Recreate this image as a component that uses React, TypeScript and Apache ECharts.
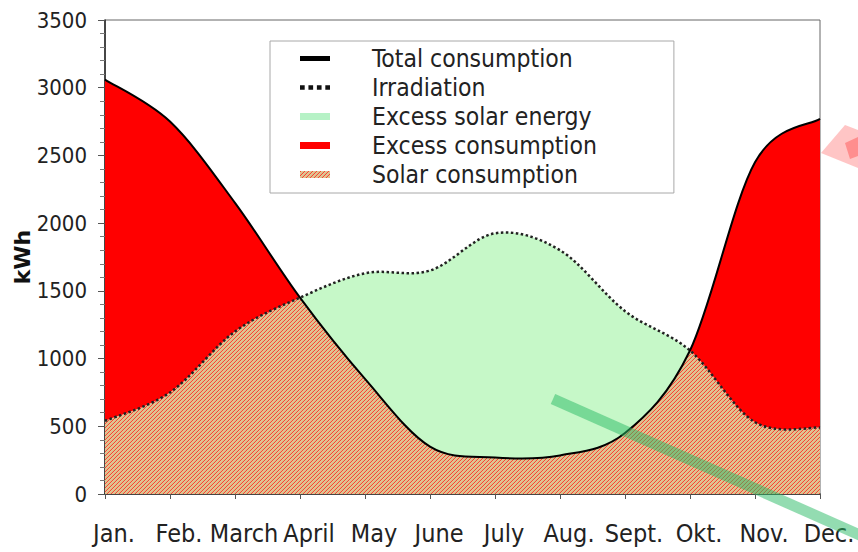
import React, { useEffect, useRef } from "react";
import * as echarts from "echarts";

// ---- data ----
const months = ["Jan.", "Feb.", "March", "April", "May", "June", "July", "Aug.", "Sept.", "Okt.", "Nov.", "Dec."];
const totalConsumption = [3060, 2750, 2150, 1450, 850, 350, 270, 285, 450, 1060, 2450, 2770];
const irradiation = [540, 750, 1200, 1450, 1630, 1650, 1925, 1800, 1350, 1060, 530, 490];
const yMin = 0;
const yMax = 3500;
const yInterval = 500;

const legendNames = ["Total consumption", "Irradiation", "Excess solar energy", "Excess consumption", "Solar consumption"];

const FONT = "'DejaVu Sans Condensed', 'DejaVu Sans', sans-serif";
const RED = "#ff0000";
const GREEN = "#c6f8c8";
const S = 1 / 6;

function makeHatch(): any {
  const c = document.createElement("canvas");
  c.width = 4;
  c.height = 4;
  const ctx = c.getContext("2d")!;
  const img = ctx.createImageData(4, 4);
  const cols = [
    [230, 80, 62],
    [246, 186, 142],
    [200, 208, 152],
    [242, 176, 128],
  ];
  for (let y = 0; y < 4; y++) {
    for (let x = 0; x < 4; x++) {
      const col = cols[(x + y) % 4];
      const o = (y * 4 + x) * 4;
      img.data[o] = col[0];
      img.data[o + 1] = col[1];
      img.data[o + 2] = col[2];
      img.data[o + 3] = 255;
    }
  }
  ctx.putImageData(img, 0, 0);
  return { image: c.toDataURL(), repeat: "repeat", imageWidth: 4, imageHeight: 4 };
}

type Seg = { c1: number[]; c2: number[]; p1: number[]; p2: number[] };

function buildSegs(p: number[][]): Seg[] {
  const n = p.length;
  const segs: Seg[] = [];
  for (let k = 0; k < n - 1; k++) {
    const p0 = p[Math.max(0, k - 1)];
    const p1 = p[k];
    const p2 = p[k + 1];
    const p3 = p[Math.min(n - 1, k + 2)];
    segs.push({
      c1: [p1[0] + (p2[0] - p0[0]) * S, p1[1] + (p2[1] - p0[1]) * S],
      c2: [p2[0] - (p3[0] - p1[0]) * S, p2[1] - (p3[1] - p1[1]) * S],
      p1,
      p2,
    });
  }
  return segs;
}

const f = (q: number[]) => `${q[0].toFixed(2)},${q[1].toFixed(2)}`;
function fwd(segs: Seg[], a: number, b: number) {
  let d = "";
  for (let k = a; k < b; k++) d += ` C${f(segs[k].c1)} ${f(segs[k].c2)} ${f(segs[k].p2)}`;
  return d;
}
function bwd(segs: Seg[], a: number, b: number) {
  let d = "";
  for (let k = b - 1; k >= a; k--) d += ` C${f(segs[k].c2)} ${f(segs[k].c1)} ${f(segs[k].p1)}`;
  return d;
}

function geometry(api: any) {
  const T = totalConsumption.map((v, k) => api.coord([k, v]));
  const I = irradiation.map((v, k) => api.coord([k, v]));
  const tS = buildSegs(T);
  const iS = buildSegs(I);
  const n = months.length;
  const base = api.coord([0, 0])[1];
  const consAbove: boolean[] = [];
  for (let k = 0; k < n - 1; k++) {
    consAbove.push(totalConsumption[k] + totalConsumption[k + 1] >= irradiation[k] + irradiation[k + 1]);
  }
  let hatch = `M${T[0][0].toFixed(2)},${base.toFixed(2)} L${f(consAbove[0] ? I[0] : T[0])}`;
  for (let k = 0; k < n - 1; k++) hatch += consAbove[k] ? fwd(iS, k, k + 1) : fwd(tS, k, k + 1);
  hatch += ` L${T[n - 1][0].toFixed(2)},${base.toFixed(2)} Z`;
  let red = "";
  let green = "";
  let a = 0;
  while (a < n - 1) {
    let b = a;
    while (b < n - 1 && consAbove[b] === consAbove[a]) b++;
    if (consAbove[a]) {
      red += ` M${f(T[a])}` + fwd(tS, a, b) + ` L${f(I[b])}` + bwd(iS, a, b) + " Z";
    } else {
      green += ` M${f(I[a])}` + fwd(iS, a, b) + ` L${f(T[b])}` + bwd(tS, a, b) + " Z";
    }
    a = b;
  }
  const tLine = `M${f(T[0])}` + fwd(tS, 0, n - 1);
  const iLine = `M${f(I[0])}` + fwd(iS, 0, n - 1);
  return { hatch, red, green, tLine, iLine };
}

export default function App() {
  const ref = useRef<HTMLDivElement>(null);
  useEffect(() => {
    if (!ref.current) return;
    const chart = echarts.init(ref.current, null, { renderer: "svg" });
    const hatch = makeHatch();

    const mk = (name: string, kind: string, z: number, color: any) => ({
      name,
      type: "custom",
      z,
      itemStyle: { color },
      data: [[0, 0]],
      renderItem: (params: any, api: any) => {
        if (params.dataIndex !== 0) return null;
        const g = geometry(api);
        if (kind === "hatch")
          return { type: "path", silent: true, shape: { pathData: g.hatch }, style: { fill: hatch, stroke: null } };
        if (kind === "red")
          return { type: "path", silent: true, shape: { pathData: g.red }, style: { fill: RED, stroke: null } };
        if (kind === "green")
          return { type: "path", silent: true, shape: { pathData: g.green }, style: { fill: GREEN, stroke: null } };
        if (kind === "total")
          return {
            type: "path",
            silent: true,
            shape: { pathData: g.tLine },
            style: { fill: "none", stroke: "#000", lineWidth: 2 },
          };
        return {
          type: "path",
          silent: true,
          shape: { pathData: g.iLine },
          style: { fill: "none", stroke: "#222", lineWidth: 2.5, lineDash: [2.5, 2.5] },
        };
      },
    });

    const option: any = {
      animation: false,
      backgroundColor: "#fff",
      grid: {
        left: 105,
        right: 38,
        top: 20,
        bottom: 58,
        containLabel: false,
        outerBoundsMode: "none",
        show: true,
        borderColor: "#666",
        borderWidth: 1,
      },
      legend: {
        orient: "vertical",
        left: 270,
        top: 41,
        padding: [5, 77, 6, 30],
        backgroundColor: "#fff",
        borderColor: "#a8a8a8",
        borderWidth: 1,
        itemWidth: 30,
        itemHeight: 7,
        itemGap: 4,
        selectedMode: false,
        textStyle: { fontFamily: FONT, fontSize: 24.5, color: "#222", lineHeight: 24, padding: [0, 0, 0, 37] },
        data: [
          { name: legendNames[0], icon: "path://M0,0H30V5H0Z", itemStyle: { color: "#000" } },
          {
            name: legendNames[1],
            icon: "path://M0,0h5v5h-5z M9,0h5v5h-5z M18,0h5v5h-5z M27,0h5v5h-5z",
            itemStyle: { color: "#111" },
          },
          { name: legendNames[2], icon: "rect", itemStyle: { color: "#b6f2c6" } },
          { name: legendNames[3], icon: "rect", itemStyle: { color: RED } },
          { name: legendNames[4], icon: "rect", itemStyle: { color: hatch } },
        ],
      },
      xAxis: {
        type: "category",
        data: months,
        boundaryGap: false,
        axisLine: { lineStyle: { color: "#222", width: 1.5 } },
        axisTick: { show: true, length: 5, lineStyle: { color: "#555" } },
        axisLabel: { color: "#222", fontSize: 25, fontFamily: FONT, margin: 27, interval: 0, padding: [0, 0, 0, 18] },
        splitLine: { show: false },
      },
      yAxis: {
        type: "value",
        min: yMin,
        max: yMax,
        interval: yInterval,
        name: "kWh",
        nameLocation: "middle",
        nameGap: 72,
        nameRotate: 90,
        nameMoveOverlap: false,
        nameTextStyle: { fontSize: 22, fontWeight: "bold", fontFamily: "'DejaVu Sans', sans-serif", color: "#111" },
        axisLine: { show: true, lineStyle: { color: "#222", width: 1.5 } },
        axisTick: { show: true, length: 7, lineStyle: { color: "#555" } },
        minorTick: { show: true, splitNumber: 5, length: 5, lineStyle: { color: "#777" } },
        axisLabel: { color: "#222", fontSize: 22, fontFamily: FONT, margin: 18, formatter: (v: number) => String(v) },
        splitLine: { show: false },
      },
      series: [
        mk(legendNames[4], "hatch", 1, "#e07050"),
        mk(legendNames[3], "red", 2, RED),
        mk(legendNames[2], "green", 2, GREEN),
        mk(legendNames[1], "irr", 4, "#111"),
        mk(legendNames[0], "total", 5, "#000"),
      ],
      graphic: [
        {
          type: "line",
          silent: true,
          z: 100,
          shape: { x1: 553, y1: 399, x2: 880, y2: 544 },
          style: { stroke: "rgba(40,185,100,0.5)", lineWidth: 11 },
        },
        {
          type: "polygon",
          silent: true,
          z: 100,
          shape: { points: [[821, 153], [845, 125], [858, 130], [858, 168]] },
          style: { fill: "rgba(255,110,110,0.4)" },
        },
        {
          type: "polygon",
          silent: true,
          z: 101,
          shape: { points: [[845, 143], [858, 137], [858, 156], [850, 159]] },
          style: { fill: "rgba(255,60,60,0.4)" },
        },
      ],
    };
    chart.setOption(option);
    return () => chart.dispose();
  }, []);
  return <div ref={ref} style={{ position: "absolute", left: 0, top: 0, width: 858, height: 552 }} />;
}
